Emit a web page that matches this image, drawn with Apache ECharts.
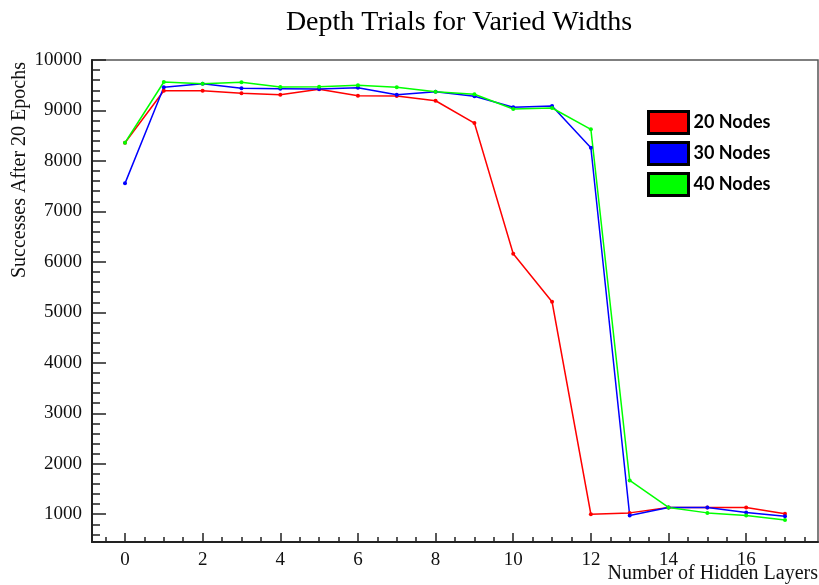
<!DOCTYPE html>
<html>
<head>
<meta charset="utf-8">
<title>Depth Trials for Varied Widths</title>
<script src="https://cdn.jsdelivr.net/npm/echarts@6/dist/echarts.min.js"></script>
<style>
  html, body { margin: 0; padding: 0; background: #fff; }
  #chart { width: 819px; height: 585px; }
</style>
</head>
<body>
<div id="chart"></div>
<script>
// data
var layers = [0, 1, 2, 3, 4, 5, 6, 7, 8, 9, 10, 11, 12, 13, 14, 15, 16, 17]
var nodes20 = [8360, 9392, 9390, 9340, 9313, 9419, 9293, 9286, 9193, 8751, 6161, 5210, 1000, 1027, 1134, 1134, 1134, 1008]
var nodes30 = [7556, 9459, 9530, 9439, 9432, 9425, 9452, 9313, 9372, 9280, 9062, 9088, 8262, 974, 1134, 1134, 1035, 961]
var nodes40 = [8361, 9564, 9530, 9557, 9465, 9471, 9498, 9459, 9372, 9320, 9029, 9049, 8626, 1670, 1134, 1027, 974, 888]
var seriesNames = ['20 Nodes', '30 Nodes', '40 Nodes']
var xMajorTicks = [0, 2, 4, 6, 8, 10, 12, 14, 16]
var xMinorTicks = []
for (var i = -0.5; i <= 17.5; i += 0.5) xMinorTicks.push(i)
var yMajorTicks = [1000, 2000, 3000, 4000, 5000, 6000, 7000, 8000, 9000, 10000]
var yMinorTicks = []
for (var v = 600; v <= 10000; v += 200) yMinorTicks.push(v)

function pairs (vals) {
  return layers.map(function (x, k) { return [x, vals[k]] })
}

var chart = echarts.init(document.getElementById('chart'))
var serif = '"Liberation Serif", "DejaVu Serif", serif'
var xRange = {min: -0.85, max: 17.85}
var yRange = {min: 450, max: 10000}

function lineSeries (name, vals, color) {
  return {
    name: name,
    type: 'line',
    data: pairs(vals),
    symbol: 'circle',
    symbolSize: 4,
    showSymbol: true,
    lineStyle: {color: color, width: 1.5},
    itemStyle: {color: color},
    emphasis: {disabled: true}
  }
}

chart.setOption({
  animation: false,
  backgroundColor: '#fff',
  title: {
    text: 'Depth Trials for Varied Widths',
    left: 454,
    textAlign: 'center',
    top: 4,
    textStyle: {fontFamily: serif, fontWeight: 'normal', fontSize: 28, color: '#000'}
  },
  legend: {
    orient: 'vertical',
    left: 642,
    top: 105,
    icon: 'rect',
    itemWidth: 40,
    itemHeight: 22,
    itemGap: 6,
    data: seriesNames,
    itemStyle: {borderColor: '#000', borderWidth: 3},
    textStyle: {fontFamily: 'Lato, "Open Sans", sans-serif', fontWeight: 'bold', fontSize: 18, lineHeight: 22, color: '#000'}
  },
  grid: {
    left: 92,
    right: 1,
    top: 60,
    bottom: 43,
    show: true,
    borderColor: '#555',
    borderWidth: 1.5
  },
  xAxis: [
    {
      type: 'value',
      min: xRange.min,
      max: xRange.max,
      axisLine: {show: true, onZero: false, lineStyle: {color: '#222', width: 2}},
      axisTick: {show: true, inside: true, length: 9, customValues: xMajorTicks, lineStyle: {color: '#222', width: 1.5}},
      axisLabel: {customValues: xMajorTicks, margin: 9, fontFamily: serif, fontSize: 19, color: '#111'},
      splitLine: {show: false}
    },
    {
      type: 'value',
      position: 'bottom',
      min: xRange.min,
      max: xRange.max,
      axisLine: {show: false, onZero: false},
      axisTick: {show: true, inside: true, length: 5, customValues: xMinorTicks, lineStyle: {color: '#222', width: 1.5}},
      axisLabel: {show: false},
      splitLine: {show: false}
    }
  ],
  yAxis: [
    {
      type: 'value',
      min: yRange.min,
      max: yRange.max,
      axisLine: {show: true, onZero: false, lineStyle: {color: '#222', width: 2}},
      axisTick: {show: true, inside: true, length: 14, customValues: yMajorTicks, lineStyle: {color: '#222', width: 1.5}},
      axisLabel: {
        customValues: yMajorTicks,
        margin: 10,
        fontFamily: serif,
        fontSize: 19,
        color: '#111',
        formatter: function (val) { return String(val) }
      },
      splitLine: {show: false}
    },
    {
      type: 'value',
      position: 'left',
      min: yRange.min,
      max: yRange.max,
      axisLine: {show: false, onZero: false},
      axisTick: {show: true, inside: true, length: 8, customValues: yMinorTicks, lineStyle: {color: '#222', width: 1.5}},
      axisLabel: {show: false},
      splitLine: {show: false}
    }
  ],
  graphic: [
    {
      type: 'text',
      x: 20,
      y: 62,
      rotation: Math.PI / 2,
      style: {text: 'Successes After 20 Epochs', fontFamily: serif, fontSize: 20, fill: '#111', align: 'right', verticalAlign: 'middle'}
    },
    {
      type: 'text',
      x: 818,
      y: 574,
      style: {text: 'Number of Hidden Layers', fontFamily: serif, fontSize: 20, fill: '#111', align: 'right', verticalAlign: 'middle'}
    }
  ],
  series: [
    lineSeries(seriesNames[0], nodes20, '#ff0000'),
    lineSeries(seriesNames[1], nodes30, '#0000ff'),
    lineSeries(seriesNames[2], nodes40, '#00ff00')
  ]
})
</script>
</body>
</html>
